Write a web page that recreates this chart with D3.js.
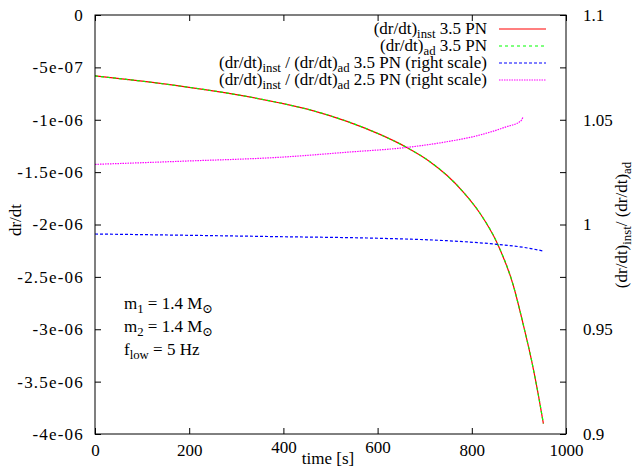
<!DOCTYPE html>
<html><head><meta charset="utf-8">
<script src="https://cdn.jsdelivr.net/npm/d3@7"></script>
<style>body{margin:0;background:#fff}svg{display:block}</style>
</head><body>
<svg id="c" width="643" height="474"></svg>
<script>
// ---- data ----
const timeDrdt = [0, 100, 196, 300, 393, 464, 535, 605, 662, 711, 747, 782, 817, 853, 888, 909, 927, 941, 952];
const drdtInst = [-5.82e-7, -6.32e-7, -6.88e-7, -7.60e-7, -8.40e-7, -9.15e-7, -1.015e-6, -1.140e-6, -1.265e-6, -1.400e-6,
                  -1.530e-6, -1.690e-6, -1.890e-6, -2.170e-6, -2.580e-6, -2.950e-6, -3.300e-6, -3.620e-6, -3.900e-6];
const drdtAd   = [-5.82e-7, -6.32e-7, -6.88e-7, -7.60e-7, -8.40e-7, -9.15e-7, -1.015e-6, -1.140e-6, -1.265e-6, -1.400e-6,
                  -1.530e-6, -1.690e-6, -1.890e-6, -2.170e-6, -2.580e-6, -2.950e-6, -3.300e-6, -3.620e-6, -3.900e-6];
const timeRatio35 = [0, 200, 393, 605, 747, 853, 909, 952];
const ratio35     = [0.99547, 0.99484, 0.99418, 0.99341, 0.99227, 0.99055, 0.98912, 0.98735];
const timeRatio25 = [0, 196, 393, 535, 662, 747, 817, 874, 902, 906, 909];
const ratio25     = [1.0287, 1.0303, 1.0321, 1.0345, 1.0368, 1.0395, 1.0427, 1.0467, 1.0491, 1.0500, 1.0515];
const xTicks = [0, 200, 400, 600, 800, 1000];
const yLeftTicks = [0, -5e-7, -1e-6, -1.5e-6, -2e-6, -2.5e-6, -3e-6, -3.5e-6, -4e-6];
const yLeftLabels = ["0", "-5e-07", "-1e-06", "-1.5e-06", "-2e-06", "-2.5e-06", "-3e-06", "-3.5e-06", "-4e-06"];
const yRightTicks = [0.9, 0.925, 0.95, 0.975, 1, 1.025, 1.05, 1.075, 1.1];
const yRightLabels = ["0.9", "", "0.95", "", "1", "", "1.05", "", "1.1"];
const seriesNames = [
  [{t:"(dr/dt)"},{t:"inst",s:1},{t:" 3.5 PN"}],
  [{t:"(dr/dt)"},{t:"ad",s:1},{t:" 3.5 PN"}],
  [{t:"(dr/dt)"},{t:"inst",s:1},{t:" / (dr/dt)"},{t:"ad",s:1},{t:" 3.5 PN (right scale)"}],
  [{t:"(dr/dt)"},{t:"inst",s:1},{t:" / (dr/dt)"},{t:"ad",s:1},{t:" 2.5 PN (right scale)"}]
];
const seriesColors = ["#ff0000", "#00ff00", "#0000ff", "#ff00ff"];
const seriesDash = [null, "3,3", "3,2", "1.5,1"];
const notes = [
  [{t:"m"},{t:"1",s:1},{t:" = 1.4 M"},{t:"\u2299",s:1}],
  [{t:"m"},{t:"2",s:1},{t:" = 1.4 M"},{t:"\u2299",s:1}],
  [{t:"f"},{t:"low",s:1},{t:" = 5 Hz"}]
];

// ---- layout ----
const W = 643, H = 474, m = {l: 95, r: 77, t: 15, b: 40};
const pw = W - m.l - m.r, ph = H - m.t - m.b;
const FONT = "'Liberation Serif', 'Times New Roman', Times, 'DejaVu Serif', serif";
const FS = 17, SUB = 0.75, DROP = 4;
const svg = d3.select("#c").attr("font-family", FONT);

const x = d3.scaleLinear().domain([0, 1000]).range([m.l, m.l + pw]);
const yL = d3.scaleLinear().domain([-4e-6, 0]).range([m.t + ph, m.t]);
const yR = d3.scaleLinear().domain([0.9, 1.1]).range([m.t + ph, m.t]);

function richText(sel, parts) {
  let shifted = false;
  parts.forEach(p => {
    const ts = sel.append("tspan").text(p.t);
    if (p.s) ts.attr("font-size", FS * SUB);
    if (p.s && !shifted) { ts.attr("dy", DROP); shifted = true; }
    else if (!p.s && shifted) { ts.attr("dy", -DROP); shifted = false; }
  });
}

// bottom
const gb = svg.append("g").attr("transform", `translate(0,${m.t + ph})`)
  .call(d3.axisBottom(x).tickValues(xTicks).tickSize(-6).tickPadding(10).tickFormat(d3.format("d")));
gb.selectAll("text").filter(d => d === 400 || d === 600).attr("dy", "0.52em");
// top
svg.append("g").attr("transform", `translate(0,${m.t})`)
  .call(d3.axisTop(x).tickValues(xTicks).tickSize(-6).tickFormat(""));
// left
const gl = svg.append("g").attr("transform", `translate(${m.l},0)`)
  .call(d3.axisLeft(yL).tickValues(yLeftTicks).tickSize(-6).tickPadding(11)
    .tickFormat((d, i) => yLeftLabels[i]));
// right
svg.append("g").attr("transform", `translate(${m.l + pw},0)`)
  .call(d3.axisRight(yR).tickValues(yRightTicks).tickSize(-6).tickPadding(17)
    .tickFormat((d, i) => yRightLabels[i]));

svg.selectAll(".domain").remove();
svg.selectAll("g").attr("font-family", null).attr("font-size", null);
svg.selectAll(".tick text").attr("font-size", FS).attr("font-family", FONT).attr("fill", "#000");
gl.selectAll(".tick text").attr("letter-spacing", 1.2);
svg.selectAll(".tick line").attr("stroke", "#000");

// clip
svg.append("clipPath").attr("id", "clip").append("rect")
  .attr("x", m.l).attr("y", m.t).attr("width", pw).attr("height", ph);
const plot = svg.append("g").attr("clip-path", "url(#clip)");

const lineL = d3.line().x(d => x(d[0])).y(d => yL(d[1])).curve(d3.curveMonotoneX);
const lineR = d3.line().x(d => x(d[0])).y(d => yR(d[1])).curve(d3.curveMonotoneX);

const series = [
  {pts: d3.zip(timeDrdt, drdtInst), line: lineL},
  {pts: d3.zip(timeDrdt, drdtAd), line: lineL},
  {pts: d3.zip(timeRatio35, ratio35), line: lineR},
  {pts: d3.zip(timeRatio25, ratio25), line: lineR}
];
series.forEach((s, i) => {
  plot.append("path").attr("d", s.line(s.pts)).attr("fill", "none")
    .attr("stroke", seriesColors[i]).attr("stroke-width", 1.2)
    .attr("stroke-dasharray", seriesDash[i]);
});

// frame
svg.append("rect").attr("x", m.l).attr("y", m.t).attr("width", pw).attr("height", ph)
  .attr("fill", "none").attr("stroke", "#000").attr("stroke-width", 1);

// legend
const legY = [29, 46, 63, 80];
seriesNames.forEach((parts, i) => {
  const t = svg.append("text").attr("x", 487).attr("y", legY[i] + 5)
    .attr("text-anchor", "end").attr("font-size", FS);
  richText(t, parts);
  svg.append("line").attr("x1", 499).attr("x2", 546).attr("y1", legY[i]).attr("y2", legY[i])
    .attr("stroke", seriesColors[i]).attr("stroke-width", 1.1).attr("stroke-dasharray", seriesDash[i]);
});

// notes
const noteY = [309, 332, 355];
notes.forEach((parts, i) => {
  const t = svg.append("text").attr("x", 124).attr("y", noteY[i]).attr("font-size", FS);
  richText(t, parts);
});

// axis titles
svg.append("text").attr("x", 328).attr("y", 464).attr("text-anchor", "middle")
  .attr("font-size", FS).text("time [s]");
svg.append("text").attr("transform", "translate(21,220) rotate(-90)")
  .attr("text-anchor", "middle").attr("font-size", FS).text("dr/dt");
const rt = svg.append("text").attr("transform", "translate(627,225) rotate(-90)")
  .attr("text-anchor", "middle").attr("font-size", FS);
richText(rt, [{t:"(dr/dt)"},{t:"inst",s:1},{t:"/ (dr/dt)"},{t:"ad",s:1}]);
</script>
</body></html>
